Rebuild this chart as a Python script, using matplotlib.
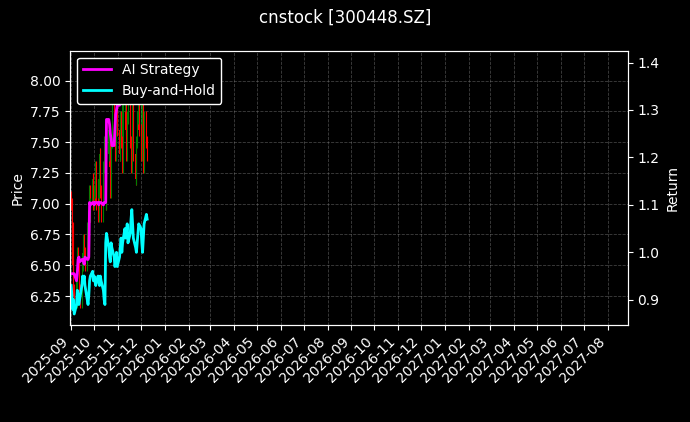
import matplotlib
matplotlib.use("Agg")
import matplotlib.pyplot as plt
import matplotlib.dates as mdates
import pandas as pd
import numpy as np

plt.style.use("dark_background")

dates = pd.bdate_range("2025-09-01", periods=72)

close = [7.0,6.8,6.5,6.3,6.2,6.4,6.6,6.5,6.3,6.2,6.5,6.6,6.7,6.6,6.5,6.8,6.9,7.1,6.9,7.0,7.2,7.0,
         7.1,7.3,7.0,6.9,7.2,7.4,7.1,6.9,7.3,7.5,7.2,7.0,7.4,7.6,7.3,7.1,7.5,7.8,7.6,7.4,7.7,7.9,7.6,
         7.4,7.7,7.5,7.3,7.8,8.0,7.6,7.4,7.7,7.9,7.5,7.3,7.6,7.8,7.4,7.2,7.5,7.7,7.9,7.6,
         7.4,7.8,7.6,7.3,7.7,7.5,7.4]
opens = [7.05,7.0,6.8,6.5,6.3,6.2,6.4,6.6,6.5,6.3,6.2,6.5,6.6,6.7,6.6,6.5,6.8,6.9,7.1,6.9,7.0,7.2,
         7.0,7.1,7.3,7.0,6.9,7.2,7.4,7.1,6.9,7.3,7.5,7.2,7.0,7.4,7.6,7.3,7.1,7.5,7.8,7.6,7.4,7.7,7.9,
         7.6,7.4,7.7,7.5,7.3,7.8,8.0,7.6,7.4,7.7,7.9,7.5,7.3,7.6,7.8,7.4,7.2,7.5,7.7,7.9,
         7.6,7.4,7.8,7.6,7.3,7.7,7.5]
high = [7.1,7.05,6.85,6.55,6.35,6.45,6.65,6.65,6.55,6.35,6.55,6.65,6.75,6.75,6.65,6.85,6.95,7.15,7.15,7.05,7.25,7.25,
        7.15,7.35,7.35,7.05,7.25,7.45,7.45,7.15,7.35,7.55,7.55,7.25,7.45,7.65,7.65,7.35,7.55,7.85,7.85,7.65,7.75,7.95,7.95,
        7.65,7.75,7.75,7.55,7.85,8.05,8.05,7.65,7.75,7.95,7.95,7.55,7.65,7.85,7.85,7.45,7.55,7.75,7.95,7.95,
        7.65,7.85,7.85,7.65,7.75,7.75,7.55]
low = [6.95,6.75,6.45,6.25,6.15,6.15,6.35,6.45,6.25,6.15,6.15,6.45,6.55,6.55,6.45,6.45,6.75,6.85,6.85,6.85,6.95,6.95,
       6.95,7.05,6.95,6.85,6.85,7.15,7.05,6.85,6.85,7.25,7.15,6.95,6.95,7.35,7.25,7.05,7.05,7.45,7.55,7.35,7.35,7.65,7.55,
       7.35,7.35,7.45,7.25,7.25,7.75,7.55,7.35,7.35,7.65,7.45,7.25,7.25,7.55,7.35,7.15,7.15,7.45,7.65,7.55,
       7.35,7.35,7.55,7.25,7.25,7.45,7.35]

ai_strategy = [0.955,0.955,0.955,0.955,0.955,0.94,0.955,
               0.985,0.99,0.98,0.985,0.985,0.98,0.975,0.99,0.985,0.985,0.99,
               1.105,1.10,1.105,1.105,1.10,1.105,1.105,1.105,1.10,1.105,1.105,1.105,1.10,1.105,1.105,1.105,
               1.28,1.28,1.27,1.25,1.24,1.225,1.225,1.26,1.29,1.30,1.31,1.31,1.32,1.33,1.33,1.34,1.35,1.36,
               1.37,1.37,1.38,1.38,1.37,1.38,1.39,1.38,1.37,1.38,1.39,1.40,1.39,1.38,1.39,1.40,1.39,1.38,1.39,1.40]
buy_hold = [0.93,0.91,0.88,0.90,0.87,0.89,0.92,0.91,0.89,0.90,
            0.93,0.95,0.94,0.95,0.93,0.90,0.89,0.91,0.94,0.95,
            0.96,0.94,0.95,0.94,0.93,0.95,0.94,0.93,0.95,0.94,
            0.92,0.90,0.89,1.02,1.04,1.01,
            0.99,0.98,1.02,1.01,0.99,0.97,0.98,1.00,0.97,0.99,
            1.01,1.03,1.00,1.02,1.05,1.03,1.04,1.06,1.02,1.04,
            1.07,1.09,1.06,1.03,1.01,1.00,1.02,1.04,
            1.06,1.05,1.02,1.00,1.03,1.06,1.08,1.07]

fig, ax = plt.subplots(figsize=(6.9, 4.22), dpi=100)
fig.patch.set_facecolor("black")
ax.set_facecolor("black")

x = mdates.date2num(dates)
o = np.array(opens); c = np.array(close)
cols = np.where(c >= o, "green", "red")
ax.vlines(x, low, high, colors=cols, linewidth=0.8)
ax.bar(x, np.abs(c - o), bottom=np.minimum(o, c), width=0.8, color=cols)
ax.set_ylabel("Price")
ax.set_ylim(6.015, 8.243)
ax.grid(True, linestyle="--", color="gray", alpha=0.5, linewidth=0.6)

ax2 = ax.twinx()
ax2.plot(dates, ai_strategy, color="magenta", linewidth=2, label="AI Strategy")
ax2.plot(dates, buy_hold, color="cyan", linewidth=2, label="Buy-and-Hold")
ax2.set_ylabel("Return")
ax2.set_ylim(0.847, 1.425)
ax2.legend(loc="upper left", facecolor="black", edgecolor="white", framealpha=1)

ax.set_xlim(pd.Timestamp("2025-08-31"), pd.Timestamp("2027-08-27"))
ax.xaxis.set_major_locator(mdates.MonthLocator())
ax.xaxis.set_major_formatter(mdates.DateFormatter("%Y-%m"))
plt.setp(ax.get_xticklabels(), rotation=45, ha="right")

fig.suptitle("cnstock [300448.SZ]")
fig.subplots_adjust(left=0.102, right=0.91, top=0.88, bottom=0.23)
fig.savefig("out.png", dpi=100, facecolor="black")
